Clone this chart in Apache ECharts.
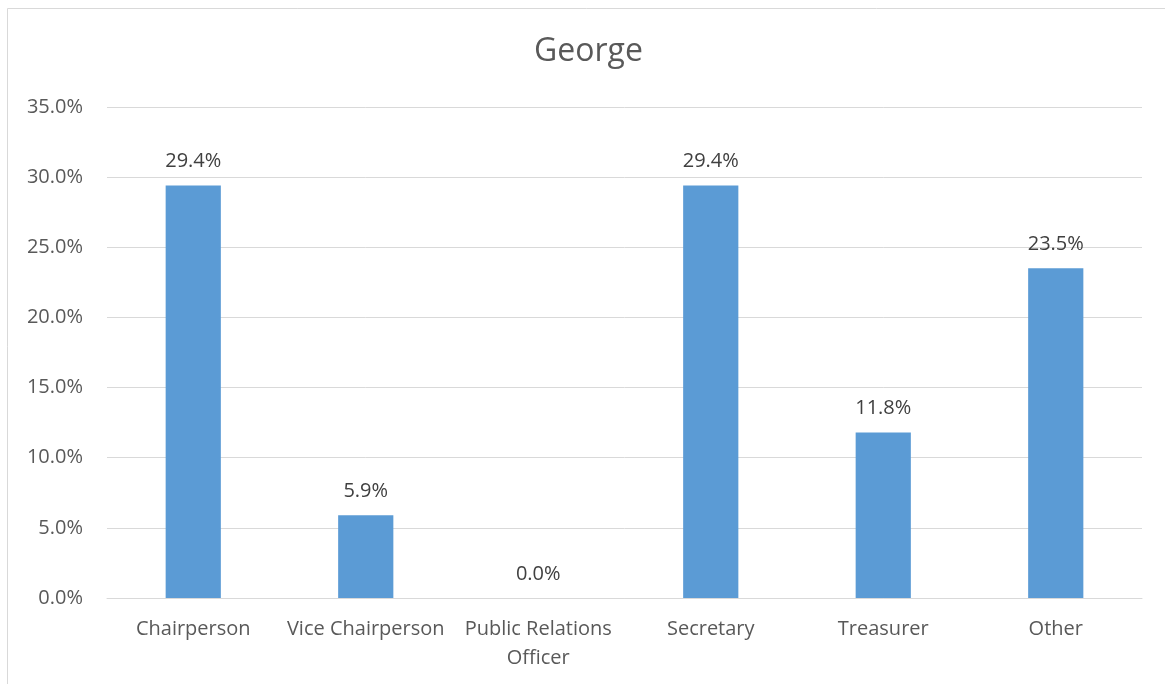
<!DOCTYPE html>
<html>
<head>
<meta charset="utf-8">
<script src="https://cdn.jsdelivr.net/npm/echarts@6/dist/echarts.min.js"></script>
<style>
html,body{margin:0;padding:0;background:#fff;}
#chart{width:1165px;height:684px;}
</style>
</head>
<body>
<div id="chart"></div>
<script>
const titleText = "George";
const categories = ["Chairperson", "Vice Chairperson", "Public Relations\nOfficer", "Secretary", "Treasurer", "Other"];
const values = [29.4, 5.9, 0.0, 29.4, 11.8, 23.5];
const yMin = 0, yMax = 35, yStep = 5;

const FONT = "'Open Sans', sans-serif";
const chart = echarts.init(document.getElementById('chart'));
chart.setOption({
  animation: false,
  backgroundColor: '#fff',
  title: {
    text: titleText, left: 529, top: 31,
    textStyle: { fontFamily: FONT, fontSize: 32, fontWeight: 'normal', color: '#595959' }
  },
  graphic: [{
    type: 'rect', shape: { x: 7.5, y: 8.5, width: 1170, height: 700 },
    style: { fill: 'none', stroke: '#D9D9D9', lineWidth: 1 }, silent: true
  }],
  grid: { left: 107, right: 23, top: 107, bottom: 86, containLabel: false },
  xAxis: {
    type: 'category', data: categories,
    axisLine: { show: true, lineStyle: { color: '#D9D9D9', width: 1 } },
    axisTick: { show: false },
    axisLabel: { fontFamily: FONT, fontSize: 20, color: '#595959', margin: 17, lineHeight: 29, interval: 0 }
  },
  yAxis: {
    type: 'value', min: yMin, max: yMax, interval: yStep,
    axisLine: { show: false }, axisTick: { show: false },
    splitLine: { lineStyle: { color: '#D9D9D9', width: 1 } },
    axisLabel: { fontFamily: FONT, fontSize: 20, color: '#595959', margin: 24,
      formatter: v => v.toFixed(1) + '%' }
  },
  series: [{
    type: 'bar', data: values, barWidth: '32%',
    itemStyle: { color: '#5B9BD5' },
    label: { show: true, position: 'top', distance: 14, fontFamily: FONT, fontSize: 20, color: '#404040',
      formatter: p => p.value.toFixed(1) + '%' }
  }]
});
</script>
</body>
</html>
